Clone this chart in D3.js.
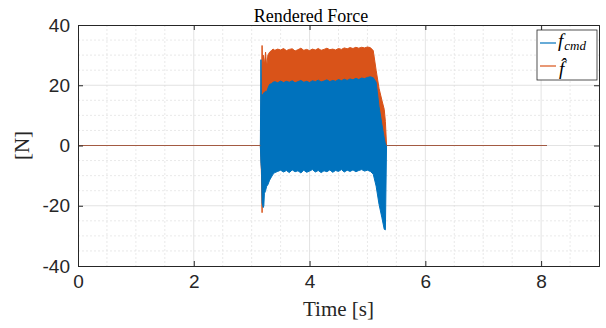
<!DOCTYPE html>
<html><head><meta charset="utf-8">
<script src="https://cdn.jsdelivr.net/npm/d3@7"></script>
<style>
html,body{margin:0;padding:0;background:#fff;}
svg{display:block;}
</style></head><body>
<svg id="chart" width="606" height="328"></svg>
<script>
// ---- data (dense oscillation shown by its envelope) ----
const time =    [0, 3.15, 3.16, 3.17, 3.18, 3.19, 3.2, 3.21, 3.22, 3.24, 3.26, 3.28, 3.31, 3.34, 3.37, 3.4, 3.45, 3.5, 3.55, 3.6, 3.65, 3.7, 3.75, 3.8, 3.85, 3.9, 3.95, 4.0, 4.05, 4.1, 4.15, 4.2, 4.25, 4.3, 4.35, 4.4, 4.45, 4.5, 4.55, 4.6, 4.65, 4.7, 4.75, 4.8, 4.85, 4.9, 4.95, 5.0, 5.05, 5.1, 5.15, 5.2, 5.25, 5.29, 5.31, 5.33, 8.1];
const fcmdUpper = [0, 0, 28.5, 10, 17, 16, 17, 17.5, 17.6, 18, 17.8, 19, 20.3, 20.5, 21, 21.2, 20.8, 21.4, 20.9, 21.3, 21.0, 21.5, 20.8, 21.2, 21.6, 21.0, 21.3, 20.9, 21.5, 21.2, 21.7, 21.1, 21.4, 21.8, 21.2, 21.6, 21.3, 21.9, 21.5, 22.0, 21.6, 22.1, 21.8, 22.3, 21.9, 22.4, 22.2, 22.6, 22.8, 22.5, 21.0, 13, 7, 2.5, 0.5, 0, 0];
const fcmdLower = [0, 0, -6, -8, -19, -20, -20.6, -20, -16, -15, -13.5, -13, -11.5, -10.5, -9.5, -9, -8.6, -8.2, -8.8, -8.3, -9.0, -8.1, -8.7, -8.4, -9.1, -8.2, -8.9, -8.5, -8.0, -8.8, -8.3, -9.0, -8.4, -8.7, -8.1, -8.9, -8.3, -8.6, -8.0, -8.8, -8.2, -8.6, -8.1, -8.7, -8.3, -8.0, -8.5, -8.2, -8.6, -9.5, -13.5, -19.5, -24, -27.8, -28, 0, 0];
const fhatUpper = [0, 0, 6, 20, 33.2, 23, 30, 28, 27, 31, 26, 30, 31, 31.5, 32, 31.6, 32, 31.7, 32.2, 31.5, 31.9, 32.1, 31.4, 31.8, 32.3, 31.6, 31.9, 31.5, 32.0, 31.7, 32.2, 31.6, 31.9, 32.3, 31.8, 32.0, 31.7, 32.2, 31.9, 32.4, 32.1, 32.5, 32.2, 32.6, 32.3, 32.6, 32.4, 32.7, 32.5, 31.5, 25, 19, 15, 12, 8, 0, 0];
const fhatLower = [0, 0, -4, -10, -22.3, -6, -5, -5, -5, -5, -5, -5, -5, -5, -5, -5, -5, -5, -5, -5, -5, -5, -5, -5, -5, -5, -5, -5, -5, -5, -5, -5, -5, -5, -5, -5, -5, -5, -5, -5, -5, -5, -5, -5, -5, -5, -5, -5, -5, -5, -5, -5, -5, -5, 0, 0, 0];
const xTicks = [0, 2, 4, 6, 8];
const yTicks = [-40, -20, 0, 20, 40];
const xMinor = d3.range(0, 9.001, 0.5);
const yMinor = d3.range(-40, 40.001, 5);
const titleText = "Rendered Force";
const xLabelText = "Time [s]";
const yLabelText = "[N]";
const colors = {cmd: "#0072BD", hat: "#D95319"};

// ---- layout ----
const svg = d3.select("#chart");
const L = 78, R = 599, T = 25, B = 266;
const x = d3.scaleLinear().domain([0, 9]).range([L, R]);
const y = d3.scaleLinear().domain([-40, 40]).range([B, T]);
const axisColor = "#262626";
const fmt = d => String(d); // plain hyphen-minus like the reference

svg.append("rect").attr("x", L).attr("y", T).attr("width", R - L).attr("height", B - T).attr("fill", "#fff");

// minor grid
const g = svg.append("g");
g.selectAll(".mx").data(xMinor.filter(v => !xTicks.includes(v) && v < 9)).enter().append("line")
  .attr("x1", d => x(d)).attr("x2", d => x(d)).attr("y1", T).attr("y2", B)
  .attr("stroke", "#e3e3e3").attr("stroke-width", 0.8).attr("stroke-dasharray", "2,2");
g.selectAll(".my").data(yMinor.filter(v => !yTicks.includes(v))).enter().append("line")
  .attr("y1", d => y(d)).attr("y2", d => y(d)).attr("x1", L).attr("x2", R)
  .attr("stroke", "#e3e3e3").attr("stroke-width", 0.8).attr("stroke-dasharray", "2,2");
// major grid
g.selectAll(".gx").data(xTicks.filter(v => v > 0)).enter().append("line")
  .attr("x1", d => x(d)).attr("x2", d => x(d)).attr("y1", T).attr("y2", B)
  .attr("stroke", "#dcdcdc").attr("stroke-width", 0.8);
g.selectAll(".gy").data(yTicks.filter(v => v > -40 && v < 40)).enter().append("line")
  .attr("y1", d => y(d)).attr("y2", d => y(d)).attr("x1", L).attr("x2", R)
  .attr("stroke", "#dcdcdc").attr("stroke-width", 0.8);

// ---- series ----
const cmdData = time.map((t, i) => ({t, hi: fcmdUpper[i], lo: fcmdLower[i]}));
const hatData = time.map((t, i) => ({t, hi: fhatUpper[i], lo: fhatLower[i]}));
const area = d3.area().x(d => x(d.t)).y0(d => y(d.lo)).y1(d => y(d.hi));
const flat = d3.line().defined(d => d.hi === d.lo).x(d => x(d.t)).y(d => y(d.hi));

const plot = svg.append("g");
plot.append("path").datum(hatData).attr("d", area)
  .attr("fill", colors.hat).attr("stroke", colors.hat).attr("stroke-width", 1);
plot.append("path").datum(cmdData).attr("d", area)
  .attr("fill", colors.cmd).attr("stroke", colors.cmd).attr("stroke-width", 1);
plot.append("path").datum(cmdData).attr("d", flat).attr("fill", "none")
  .attr("stroke", colors.cmd).attr("stroke-width", 1);
plot.append("path").datum(hatData).attr("d", flat).attr("fill", "none")
  .attr("stroke", colors.hat).attr("stroke-width", 1).attr("stroke-opacity", 0.75);

// ---- axes ----
const tickFont = "'Liberation Sans', Arial, Helvetica, sans-serif";
const xAxis = svg.append("g").attr("transform", `translate(0,${B})`)
  .call(d3.axisBottom(x).tickValues(xTicks).tickSize(-5).tickPadding(9).tickFormat(fmt));
const yAxis = svg.append("g").attr("transform", `translate(${L},0)`)
  .call(d3.axisLeft(y).tickValues(yTicks).tickSize(-5).tickPadding(8).tickFormat(fmt));
const xTop = svg.append("g").attr("transform", `translate(0,${T})`)
  .call(d3.axisTop(x).tickValues(xTicks).tickSize(-5).tickFormat(""));
const yRight = svg.append("g").attr("transform", `translate(${R},0)`)
  .call(d3.axisRight(y).tickValues(yTicks).tickSize(-5).tickFormat(""));
[xAxis, yAxis, xTop, yRight].forEach(a => {
  a.select(".domain").attr("stroke", axisColor).attr("stroke-width", 1);
  a.selectAll(".tick line").attr("stroke", axisColor);
  a.selectAll(".tick text").attr("fill", axisColor).style("font-family", tickFont).style("font-size", "19px");
});
xAxis.selectAll(".tick text").attr("dy", "0.71em");

// ---- titles ----
svg.append("text").attr("x", 311).attr("y", 22).attr("text-anchor", "middle")
  .style("font-family", "'Liberation Serif', serif").style("font-size", "18px").attr("fill", "#000").text(titleText);
svg.append("text").attr("x", (L + R) / 2).attr("y", 316).attr("text-anchor", "middle")
  .style("font-family", "'Liberation Serif', serif").style("font-size", "21px").attr("fill", axisColor).text(xLabelText);
svg.append("text").attr("transform", `translate(29,${y(0)}) rotate(-90)`).attr("text-anchor", "middle")
  .style("font-family", "'Liberation Serif', serif").style("font-size", "21px").attr("fill", axisColor).text(yLabelText);

// ---- legend ----
const lg = svg.append("g");
lg.append("rect").attr("x", 537).attr("y", 30).attr("width", 60).attr("height", 50)
  .attr("fill", "#fff").attr("stroke", axisColor).attr("stroke-width", 0.8);
const entries = [{c: colors.cmd, yy: 43}, {c: colors.hat, yy: 66}];
lg.selectAll(".ll").data(entries).enter().append("line")
  .attr("x1", 540).attr("x2", 556).attr("y1", d => d.yy).attr("y2", d => d.yy)
  .attr("stroke", d => d.c).attr("stroke-width", 1.2);
const t1 = lg.append("text").attr("x", 558).attr("y", 47)
  .style("font-family", "'Liberation Serif', serif").style("font-style", "italic").attr("fill", "#000");
t1.append("tspan").style("font-size", "19px").text("f");
t1.append("tspan").style("font-size", "13px").attr("dx", 1).attr("dy", 3).text("cmd");
lg.append("text").attr("x", 559).attr("y", 75)
  .style("font-family", "'Liberation Serif', serif").style("font-style", "italic").style("font-size", "19px")
  .attr("fill", "#000").text("f\u0302");
</script>
</body></html>
